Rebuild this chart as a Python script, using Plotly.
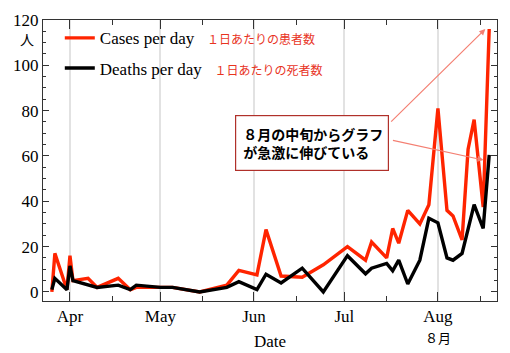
import plotly.graph_objects as go

# ---- data ----
case_dates = ["2021-03-26", "2021-03-27", "2021-03-31", "2021-04-01", "2021-04-02",
              "2021-04-07", "2021-04-10", "2021-04-17", "2021-04-21", "2021-04-23",
              "2021-05-01", "2021-05-05", "2021-05-14", "2021-05-23", "2021-05-27",
              "2021-06-02", "2021-06-05", "2021-06-10", "2021-06-17", "2021-06-24",
              "2021-07-02", "2021-07-08", "2021-07-10", "2021-07-15", "2021-07-17",
              "2021-07-19", "2021-07-22", "2021-07-26", "2021-07-29", "2021-08-01",
              "2021-08-04", "2021-08-06", "2021-08-09", "2021-08-11", "2021-08-13",
              "2021-08-16", "2021-08-18"]
cases = [0, 17, 1, 16, 5,
         6, 2, 6, 1, 2,
         2, 2, 0, 3, 9.5,
         7.5, 27.5, 7, 6.5, 12,
         20, 14, 22, 15, 28,
         21.5, 36, 30, 38.5, 81,
         36, 33.5, 23, 63, 76,
         37.5, 116]

death_dates = ["2021-03-26", "2021-03-27", "2021-03-31", "2021-04-01", "2021-04-02",
               "2021-04-07", "2021-04-10", "2021-04-17", "2021-04-21", "2021-04-23",
               "2021-05-01", "2021-05-05", "2021-05-14", "2021-05-23", "2021-05-27",
               "2021-06-02", "2021-06-05", "2021-06-10", "2021-06-17", "2021-06-24",
               "2021-07-02", "2021-07-08", "2021-07-10", "2021-07-15", "2021-07-17",
               "2021-07-19", "2021-07-22", "2021-07-26", "2021-07-29", "2021-08-01",
               "2021-08-04", "2021-08-06", "2021-08-09", "2021-08-13",
               "2021-08-16", "2021-08-18"]
deaths = [1, 6, 1, 11.5, 5,
          3, 2, 3, 1, 3,
          2, 2, 0, 2, 4.5,
          1, 7.8, 4, 10.5, 0,
          16, 8, 10.5, 12.6, 9.3,
          14, 3.5, 14, 32.5, 30.5,
          15, 14, 17, 38.5,
          28, 60.5]

case_name = "Cases per day"
death_name = "Deaths per day"
case_jp = "１日あたりの患者数"
death_jp = "１日あたりの死者数"
callout_lines = ["８月の中旬からグラフ", "が急激に伸びている"]
y_unit = "人"
x_title = "Date"
aug_jp = "８月"

RED = "#ff2400"
JP_RED = "#e8341f"
SERIF = "Liberation Serif, Times New Roman, serif"
JP = "Noto Sans CJK JP, sans-serif"


def legend_label(en, jp):
    return (en + "\u00a0\u00a0\u00a0<span style='font-family:Noto Sans CJK JP;font-size:12px;color:%s'>%s</span>"
            % (JP_RED, jp))


fig = go.Figure()
fig.add_trace(go.Scatter(x=case_dates, y=cases, mode="lines", name=legend_label(case_name, case_jp),
                         legendgroup="a", line=dict(color=RED, width=3.4)))
fig.add_trace(go.Scatter(x=death_dates, y=deaths, mode="lines", name=legend_label(death_name, death_jp),
                         legendgroup="b", line=dict(color="black", width=3.4)))

# arrows
arrow_style = dict(showarrow=True, arrowhead=2, arrowsize=1, arrowwidth=1.2, arrowcolor="#f47f72",
                   text="", xref="x", yref="y", axref="x", ayref="y")
fig.add_annotation(x="2021-08-16 17:00", y=116, ax="2021-07-16 00:00", ay=74.5, **arrow_style)
fig.add_annotation(x="2021-08-16 03:00", y=58.2, ax="2021-07-16 14:00", ay=67, **arrow_style)

# callout box
fig.add_annotation(xref="paper", yref="paper", x=0.5936, y=0.5616, xanchor="center", yanchor="middle",
                   text="<b>" + "<br>".join("\u2002" + s for s in callout_lines) + "</b>",
                   showarrow=False, align="left",
                   width=152, height=54, borderpad=0, bordercolor="#b0302a", borderwidth=1.2,
                   bgcolor="white", font=dict(family=JP, size=14, color="black"))

# unit label, Date title, 8月
fig.add_annotation(xref="paper", yref="paper", x=(26.5 - 43) / 454, y=(301 - 39) / 281,
                   text=y_unit, showarrow=False, xanchor="center", yanchor="middle",
                   font=dict(family=JP, size=14, color="black"))
fig.add_annotation(xref="paper", yref="paper", x=0.5, y=(301 - 341) / 281,
                   text=x_title, showarrow=False, xanchor="center", yanchor="middle",
                   font=dict(family=SERIF, size=17, color="black"))
fig.add_annotation(xref="x", yref="paper", x="2021-08-01", y=(301 - 337.5) / 281,
                   text=aug_jp, showarrow=False, xanchor="center", yanchor="middle",
                   font=dict(family=JP, size=13, color="black"))

fig.update_xaxes(type="date", range=["2021-03-23 01:30", "2021-08-20 14:00"],
                 tick0="2021-04-01", dtick="M1", tickformat="%b",
                 ticks="inside", ticklen=9, tickcolor="#333", tickwidth=1,
                 showline=True, linecolor="#333", linewidth=1, mirror="allticks",
                 showgrid=True, gridcolor="#e2e2e2", gridwidth=1.5, zeroline=False,
                 tickfont=dict(family=SERIF, size=17, color="black"),
                 minor=dict(tickvals=["2021-03-15", "2021-04-15", "2021-05-15", "2021-06-15",
                                      "2021-07-15", "2021-08-15"],
                            ticks="inside", ticklen=5, tickcolor="#333", showgrid=False))
fig.update_yaxes(range=[-4, 120], tick0=0, dtick=20,
                 ticks="inside", ticklen=6, tickcolor="#333",
                 showline=True, linecolor="#333", linewidth=1, mirror="allticks",
                 showgrid=False, zeroline=False,
                 tickfont=dict(family=SERIF, size=17, color="black"),
                 minor=dict(dtick=5, tick0=0, ticks="inside", ticklen=3, tickcolor="#333", showgrid=False))

fig.update_layout(width=510, height=353, margin=dict(l=43, r=13, t=20, b=52),
                  plot_bgcolor="white", paper_bgcolor="white",
                  showlegend=True,
                  legend=dict(x=0.037, y=0.999, xanchor="left", yanchor="top",
                              bgcolor="rgba(0,0,0,0)", tracegroupgap=5,
                              font=dict(family=SERIF, size=17, color="black")))

fig.write_html("out.html")
